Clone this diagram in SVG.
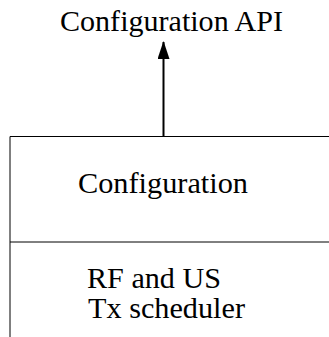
<svg xmlns="http://www.w3.org/2000/svg" width="329" height="337" viewBox="0 0 329 337">
  <style>
    .box { stroke: #000; stroke-width: 1; fill: none; }
    .conn { stroke: #000; stroke-width: 2; fill: none; }
  </style>
  <defs>
    <marker id="arrow" markerUnits="userSpaceOnUse" markerWidth="18" markerHeight="12" viewBox="0 0 18 12" refX="17" refY="6" orient="auto">
      <path d="M0,0 L18,6 L0,12 Z" fill="#000"/>
    </marker>
  </defs>
  <rect width="329" height="337" fill="#fff"/>
  <g id="labels" font-family="'Liberation Serif', 'DejaVu Serif', serif" font-size="30" fill="#000">
    <g id="api-label">
      <text x="60" y="31" textLength="223" lengthAdjust="spacingAndGlyphs">Configuration API</text>
    </g>
  </g>
  <g id="stack" font-family="'Liberation Serif', 'DejaVu Serif', serif" font-size="30" fill="#000">
    <path class="box" d="M329,136.5 H10 V337 M10,242 H329"/>
    <g id="configuration">
      <text x="78" y="193" textLength="170" lengthAdjust="spacingAndGlyphs">Configuration</text>
    </g>
    <g id="rf-us-tx-scheduler">
      <text x="87" y="288" textLength="134" lengthAdjust="spacingAndGlyphs">RF and US</text>
      <text x="88" y="318" textLength="157" lengthAdjust="spacingAndGlyphs">Tx scheduler</text>
    </g>
  </g>
  <g id="connectors">
    <line class="conn" x1="163.5" y1="136" x2="163.5" y2="42" marker-end="url(#arrow)"/>
  </g>
</svg>
